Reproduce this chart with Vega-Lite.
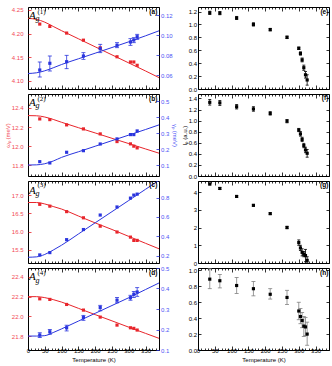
{
"$schema":"https://vega.github.io/schema/vega-lite/v6.json",
"padding":{"left":3,"top":6,"right":0,"bottom":0},
"columns":2,
"bounds":"flush",
"spacing":{"row":5,"column":39},
"datasets":{
"ca":[{"T":0,"w":4.232,"g":0.0615},{"T":25,"w":4.230,"g":0.0622},{"T":50,"w":4.224,"g":0.0642},{"T":75,"w":4.215,"g":0.0672},{"T":100,"w":4.206,"g":0.0705},{"T":150,"w":4.189,"g":0.0762},{"T":200,"w":4.172,"g":0.0818},{"T":250,"w":4.155,"g":0.0875},{"T":300,"w":4.138,"g":0.0932},{"T":350,"w":4.121,"g":0.0992},{"T":390,"w":4.107,"g":0.1042}],
"pa":[{"T":35,"w":4.220,"g":0.065,"lo":0.058,"hi":0.073},{"T":65,"w":4.215,"g":0.0717,"lo":0.064,"hi":0.079},{"T":115,"w":4.201,"g":0.0733,"lo":0.0663,"hi":0.0797},{"T":165,"w":4.186,"g":0.079,"lo":0.0757,"hi":0.0823},{"T":215,"w":4.170,"g":0.0863,"lo":0.0823,"hi":0.0907},{"T":265,"w":4.151,"g":0.0897,"lo":0.0873,"hi":0.0923},{"T":305,"w":4.140,"g":0.093,"lo":0.0897,"hi":0.0963},{"T":315,"w":4.140,"g":0.095,"lo":0.0923,"hi":0.0973},{"T":325,"w":4.133,"g":0.0983,"lo":0.0957,"hi":0.1007}],
"cb":[{"T":0,"w":12.32,"g":0.100},{"T":25,"w":12.318,"g":0.101},{"T":50,"w":12.305,"g":0.108},{"T":75,"w":12.28,"g":0.125},{"T":100,"w":12.25,"g":0.148},{"T":150,"w":12.194,"g":0.183},{"T":200,"w":12.139,"g":0.218},{"T":250,"w":12.083,"g":0.253},{"T":300,"w":12.028,"g":0.288},{"T":350,"w":11.972,"g":0.323},{"T":390,"w":11.928,"g":0.352}],
"pb":[{"T":35,"w":12.285,"g":0.121},{"T":65,"w":12.278,"g":0.113},{"T":115,"w":12.223,"g":0.180},{"T":165,"w":12.181,"g":0.190},{"T":215,"w":12.129,"g":0.232},{"T":265,"w":12.049,"g":0.264},{"T":305,"w":12.025,"g":0.291},{"T":315,"w":12.001,"g":0.291},{"T":325,"w":11.983,"g":0.314}],
"cc":[{"T":0,"w":16.80,"g":0.186},{"T":25,"w":16.80,"g":0.19},{"T":50,"w":16.76,"g":0.215},{"T":75,"w":16.69,"g":0.26},{"T":100,"w":16.62,"g":0.31},{"T":150,"w":16.43,"g":0.425},{"T":200,"w":16.24,"g":0.54},{"T":250,"w":16.06,"g":0.655},{"T":300,"w":15.87,"g":0.77},{"T":350,"w":15.68,"g":0.885},{"T":390,"w":15.53,"g":0.977}],
"pc":[{"T":35,"w":16.75,"g":0.21},{"T":65,"w":16.70,"g":0.234},{"T":115,"w":16.55,"g":0.367},{"T":165,"w":16.38,"g":0.471},{"T":215,"w":16.15,"g":0.62},{"T":265,"w":15.99,"g":0.703},{"T":305,"w":15.85,"g":0.794},{"T":315,"w":15.76,"g":0.825},{"T":325,"w":15.76,"g":0.835}],
"cd":[{"T":0,"w":22.2,"g":0.168},{"T":25,"w":22.2,"g":0.168},{"T":50,"w":22.19,"g":0.17},{"T":75,"w":22.17,"g":0.185},{"T":100,"w":22.145,"g":0.203},{"T":150,"w":22.082,"g":0.241},{"T":200,"w":22.018,"g":0.279},{"T":250,"w":21.955,"g":0.317},{"T":300,"w":21.891,"g":0.355},{"T":350,"w":21.828,"g":0.395},{"T":390,"w":21.778,"g":0.427}],
"pd":[{"T":35,"w":22.178,"g":0.173,"lo":0.161,"hi":0.184},{"T":65,"w":22.172,"g":0.189,"lo":0.177,"hi":0.200},{"T":115,"w":22.121,"g":0.208,"lo":0.193,"hi":0.221},{"T":165,"w":22.064,"g":0.258,"lo":0.245,"hi":0.269},{"T":215,"w":21.993,"g":0.307,"lo":0.291,"hi":0.318},{"T":265,"w":21.912,"g":0.343,"lo":0.330,"hi":0.356},{"T":305,"w":21.885,"g":0.355,"lo":0.343,"hi":0.367},{"T":315,"w":21.879,"g":0.372,"lo":0.356,"hi":0.386},{"T":325,"w":21.862,"g":0.383,"lo":0.362,"hi":0.404}],
"pe":[{"T":35,"v":1.18,"lo":1.155,"hi":1.205},{"T":65,"v":1.175,"lo":1.15,"hi":1.2},{"T":115,"v":1.10,"lo":1.075,"hi":1.125},{"T":165,"v":1.00,"lo":0.975,"hi":1.025},{"T":215,"v":0.92,"lo":0.90,"hi":0.94},{"T":265,"v":0.80,"lo":0.78,"hi":0.82},{"T":300,"v":0.63,"lo":0.61,"hi":0.65},{"T":305,"v":0.55,"lo":0.525,"hi":0.575},{"T":310,"v":0.45,"lo":0.42,"hi":0.48},{"T":315,"v":0.33,"lo":0.29,"hi":0.37},{"T":320,"v":0.22,"lo":0.17,"hi":0.27},{"T":325,"v":0.14,"lo":0.06,"hi":0.22}],
"pf":[{"T":35,"v":1.33,"lo":1.28,"hi":1.38},{"T":65,"v":1.32,"lo":1.275,"hi":1.365},{"T":115,"v":1.25,"lo":1.21,"hi":1.29},{"T":165,"v":1.21,"lo":1.17,"hi":1.25},{"T":215,"v":1.13,"lo":1.10,"hi":1.16},{"T":265,"v":0.99,"lo":0.96,"hi":1.02},{"T":300,"v":0.83,"lo":0.80,"hi":0.86},{"T":305,"v":0.76,"lo":0.72,"hi":0.80},{"T":310,"v":0.66,"lo":0.62,"hi":0.70},{"T":315,"v":0.55,"lo":0.51,"hi":0.59},{"T":320,"v":0.47,"lo":0.42,"hi":0.52},{"T":325,"v":0.41,"lo":0.34,"hi":0.48}],
"pg":[{"T":35,"v":4.45,"lo":4.40,"hi":4.50},{"T":65,"v":4.2,"lo":4.15,"hi":4.25},{"T":115,"v":3.75,"lo":3.70,"hi":3.80},{"T":165,"v":3.25,"lo":3.20,"hi":3.30},{"T":215,"v":2.78,"lo":2.73,"hi":2.83},{"T":265,"v":2.0,"lo":1.93,"hi":2.07},{"T":300,"v":1.15,"lo":1.00,"hi":1.30},{"T":305,"v":0.85,"lo":0.70,"hi":1.00},{"T":310,"v":0.6,"lo":0.40,"hi":0.80},{"T":315,"v":0.5,"lo":0.35,"hi":0.65},{"T":320,"v":0.42,"lo":0.07,"hi":0.77},{"T":325,"v":0.15,"lo":0.0,"hi":0.35}],
"ph":[{"T":35,"v":0.89,"lo":0.77,"hi":1.02},{"T":65,"v":0.87,"lo":0.78,"hi":0.95},{"T":115,"v":0.81,"lo":0.71,"hi":0.91},{"T":165,"v":0.77,"lo":0.68,"hi":0.86},{"T":215,"v":0.70,"lo":0.64,"hi":0.77},{"T":265,"v":0.66,"lo":0.57,"hi":0.75},{"T":300,"v":0.49,"lo":0.38,"hi":0.60},{"T":305,"v":0.42,"lo":0.33,"hi":0.52},{"T":310,"v":0.37,"lo":0.28,"hi":0.47},{"T":315,"v":0.30,"lo":0.17,"hi":0.42},{"T":320,"v":0.29,"lo":0.18,"hi":0.41},{"T":325,"v":0.20,"lo":0.06,"hi":0.35}]
},
"concat":[
  {"width":131,"height":82,
   "layer":[
    {"data":{"name":"ca"},"mark":{"type":"line","color":"#e8252b","strokeWidth":1,"interpolate":"monotone","clip":true},
     "encoding":{"x":{"field":"T","type":"quantitative","scale":{"domain":[0,390]},"axis":{"orient":"bottom","values":[0,10,20,30,40,50,60,70,80,90,100,110,120,130,140,150,160,170,180,190,200,210,220,230,240,250,260,270,280,290,300,310,320,330,340,350,360,370,380,390],"labels":false,"title":null,"tickColor":"black","tickSize":{"condition":{"test":"datum.value % 50 === 0","value":-4},"value":-2}}},
      "y":{"field":"w","type":"quantitative","scale":{"domain":[4.083,4.256]},"axis":{"orient":"left","values":[4.10,4.15,4.20,4.25],"format":".2f","labelColor":"#f24a55","tickColor":"#e8252b","tickSize":-3,"labelPadding":8,"title":null}}}},
    {"data":{"name":"pa"},"mark":{"type":"square","size":10,"color":"#e8252b","opacity":1},
     "encoding":{"x":{"field":"T","type":"quantitative","scale":{"domain":[0,390]},"axis":null},"y":{"field":"w","type":"quantitative","scale":{"domain":[4.083,4.256]},"axis":null}}},
    {"data":{"name":"ca"},"mark":{"type":"line","color":"#2a35de","strokeWidth":1,"interpolate":"monotone","clip":true},
     "encoding":{"x":{"field":"T","type":"quantitative","scale":{"domain":[0,390]},"axis":{"orient":"top","values":[0,10,20,30,40,50,60,70,80,90,100,110,120,130,140,150,160,170,180,190,200,210,220,230,240,250,260,270,280,290,300,310,320,330,340,350,360,370,380,390],"labels":false,"title":null,"tickColor":"black","tickSize":{"condition":{"test":"datum.value % 50 === 0","value":-4},"value":-2}}},
      "y":{"field":"g","type":"quantitative","scale":{"domain":[0.046,0.128]},"axis":{"orient":"right","values":[0.06,0.08,0.10,0.12],"format":".2f","labelColor":"#4f55f5","tickColor":"#2a35de","tickSize":-3,"labelPadding":4.5,"title":null}}}},
    {"data":{"name":"pa"},"mark":{"type":"rule","color":"#2a35de","strokeWidth":0.8},
     "encoding":{"x":{"field":"T","type":"quantitative","scale":{"domain":[0,390]},"axis":null},"y":{"field":"lo","type":"quantitative","scale":{"domain":[0.046,0.128]},"axis":null},"y2":{"field":"hi"}}},
    {"data":{"name":"pa"},"mark":{"type":"tick","orient":"horizontal","size":4,"thickness":0.8,"color":"#2a35de","opacity":1},
     "encoding":{"x":{"field":"T","type":"quantitative","scale":{"domain":[0,390]},"axis":null},"y":{"field":"lo","type":"quantitative","scale":{"domain":[0.046,0.128]},"axis":null}}},
    {"data":{"name":"pa"},"mark":{"type":"tick","orient":"horizontal","size":4,"thickness":0.8,"color":"#2a35de","opacity":1},
     "encoding":{"x":{"field":"T","type":"quantitative","scale":{"domain":[0,390]},"axis":null},"y":{"field":"hi","type":"quantitative","scale":{"domain":[0.046,0.128]},"axis":null}}},
    {"data":{"name":"pa"},"mark":{"type":"square","size":10,"color":"#2a35de","opacity":1},
     "encoding":{"x":{"field":"T","type":"quantitative","scale":{"domain":[0,390]},"axis":null},"y":{"field":"g","type":"quantitative","scale":{"domain":[0.046,0.128]},"axis":null}}},
    {"data":{"values":[{"T":3,"w":4.231,"t":"A"}]},"mark":{"type":"text","font":"Liberation Serif","fontStyle":"italic","fontSize":11,"align":"left","baseline":"alphabetic","color":"black"},
     "encoding":{"x":{"field":"T","type":"quantitative","scale":{"domain":[0,390]},"axis":null},"y":{"field":"w","type":"quantitative","scale":{"domain":[4.083,4.256]},"axis":null},"text":{"field":"t"}}},
    {"data":{"values":[{"T":22,"w":4.2265,"t":"g"}]},"mark":{"type":"text","font":"Liberation Serif","fontStyle":"italic","fontSize":8,"align":"left","baseline":"alphabetic","color":"black"},
     "encoding":{"x":{"field":"T","type":"quantitative","scale":{"domain":[0,390]},"axis":null},"y":{"field":"w","type":"quantitative","scale":{"domain":[4.083,4.256]},"axis":null},"text":{"field":"t"}}},
    {"data":{"values":[{"T":28,"w":4.242,"t":"(1)"}]},"mark":{"type":"text","font":"Liberation Serif","fontSize":7,"align":"left","baseline":"alphabetic","color":"black"},
     "encoding":{"x":{"field":"T","type":"quantitative","scale":{"domain":[0,390]},"axis":null},"y":{"field":"w","type":"quantitative","scale":{"domain":[4.083,4.256]},"axis":null},"text":{"field":"t"}}},
    {"data":{"values":[{"T":385,"w":4.242,"t":"(a)"}]},"mark":{"type":"text","font":"Liberation Sans","fontWeight":"bold","fontSize":6.5,"align":"right","baseline":"alphabetic","color":"black"},
     "encoding":{"x":{"field":"T","type":"quantitative","scale":{"domain":[0,390]},"axis":null},"y":{"field":"w","type":"quantitative","scale":{"domain":[4.083,4.256]},"axis":null},"text":{"field":"t"}}}
   ],
   "resolve":{"scale":{"y":"independent"},"axis":{"x":"independent","y":"independent"}}},
  {"width":131,"height":82,"data":{"name":"pe"},
   "layer":[
    {"mark":{"type":"rule","color":"black","strokeWidth":0.8},
     "encoding":{"x":{"field":"T","type":"quantitative","scale":{"domain":[0,390]},"axis":{"orient":"bottom","values":[0,10,20,30,40,50,60,70,80,90,100,110,120,130,140,150,160,170,180,190,200,210,220,230,240,250,260,270,280,290,300,310,320,330,340,350,360,370,380,390],"labels":false,"title":null,"tickColor":"black","tickSize":{"condition":{"test":"datum.value % 50 === 0","value":-4},"value":-2}}},
      "y":{"field":"lo","type":"quantitative","scale":{"domain":[0,1.27]},"axis":{"orient":"left","values":[0,0.2,0.4,0.6,0.8,1.0,1.2],"format":".1f","labelColor":"black","tickColor":"black","tickSize":-3,"labelPadding":4.5,"title":null}},"y2":{"field":"hi"}}},
    {"mark":{"type":"tick","orient":"horizontal","size":3,"thickness":0.8,"color":"black","opacity":1},
     "encoding":{"x":{"field":"T","type":"quantitative","scale":{"domain":[0,390]},"axis":null},"y":{"field":"lo","type":"quantitative","scale":{"domain":[0,1.27]},"axis":null}}},
    {"mark":{"type":"tick","orient":"horizontal","size":3,"thickness":0.8,"color":"black","opacity":1},
     "encoding":{"x":{"field":"T","type":"quantitative","scale":{"domain":[0,390]},"axis":null},"y":{"field":"hi","type":"quantitative","scale":{"domain":[0,1.27]},"axis":null}}},
    {"mark":{"type":"square","size":10,"color":"black","opacity":1},
     "encoding":{"x":{"field":"T","type":"quantitative","scale":{"domain":[0,390]},"axis":{"orient":"top","values":[0,10,20,30,40,50,60,70,80,90,100,110,120,130,140,150,160,170,180,190,200,210,220,230,240,250,260,270,280,290,300,310,320,330,340,350,360,370,380,390],"labels":false,"title":null,"tickColor":"black","tickSize":{"condition":{"test":"datum.value % 50 === 0","value":-4},"value":-2}}},
      "y":{"field":"v","type":"quantitative","scale":{"domain":[0,1.27]},"axis":{"orient":"right","values":[0,0.2,0.4,0.6,0.8,1.0,1.2],"labels":false,"tickColor":"black","tickSize":-3,"title":null}}}},
    {"data":{"values":[{"T":388,"v":1.166,"t":"(e)"}]},"mark":{"type":"text","font":"Liberation Sans","fontWeight":"bold","fontSize":6.5,"align":"right","baseline":"alphabetic","color":"black"},
     "encoding":{"x":{"field":"T","type":"quantitative","scale":{"domain":[0,390]},"axis":null},"y":{"field":"v","type":"quantitative","scale":{"domain":[0,1.27]},"axis":null},"text":{"field":"t"}}}
   ],
   "resolve":{"axis":{"x":"independent","y":"independent"}}},
  {"width":131,"height":82,
   "layer":[
    {"data":{"name":"cb"},"mark":{"type":"line","color":"#e8252b","strokeWidth":1,"interpolate":"monotone","clip":true},
     "encoding":{"x":{"field":"T","type":"quantitative","scale":{"domain":[0,390]},"axis":{"orient":"bottom","values":[0,10,20,30,40,50,60,70,80,90,100,110,120,130,140,150,160,170,180,190,200,210,220,230,240,250,260,270,280,290,300,310,320,330,340,350,360,370,380,390],"labels":false,"title":null,"tickColor":"black","tickSize":{"condition":{"test":"datum.value % 50 === 0","value":-4},"value":-2}}},
      "y":{"field":"w","type":"quantitative","scale":{"domain":[11.69,12.545]},"axis":{"orient":"left","values":[11.8,12.0,12.2,12.4],"format":".1f","labelColor":"#f24a55","tickColor":"#e8252b","tickSize":-3,"labelPadding":8,"title":"ωₚ (meV)","titleColor":"#f24a55","titlePadding":1}}}},
    {"data":{"name":"pb"},"mark":{"type":"square","size":10,"color":"#e8252b","opacity":1},
     "encoding":{"x":{"field":"T","type":"quantitative","scale":{"domain":[0,390]},"axis":null},"y":{"field":"w","type":"quantitative","scale":{"domain":[11.69,12.545]},"axis":null}}},
    {"data":{"name":"cb"},"mark":{"type":"line","color":"#2a35de","strokeWidth":1,"interpolate":"monotone","clip":true},
     "encoding":{"x":{"field":"T","type":"quantitative","scale":{"domain":[0,390]},"axis":{"orient":"top","values":[0,10,20,30,40,50,60,70,80,90,100,110,120,130,140,150,160,170,180,190,200,210,220,230,240,250,260,270,280,290,300,310,320,330,340,350,360,370,380,390],"labels":false,"title":null,"tickColor":"black","tickSize":{"condition":{"test":"datum.value % 50 === 0","value":-4},"value":-2}}},
      "y":{"field":"g","type":"quantitative","scale":{"domain":[0.031,0.546]},"axis":{"orient":"right","values":[0.1,0.2,0.3,0.4,0.5],"format":".1f","labelColor":"#4f55f5","tickColor":"#2a35de","tickSize":-3,"labelPadding":4.5,"title":"γₚ (meV)","titleColor":"#4f55f5","titlePadding":3}}}},
    {"data":{"name":"pb"},"mark":{"type":"square","size":10,"color":"#2a35de","opacity":1},
     "encoding":{"x":{"field":"T","type":"quantitative","scale":{"domain":[0,390]},"axis":null},"y":{"field":"g","type":"quantitative","scale":{"domain":[0.031,0.546]},"axis":null}}},
    {"data":{"values":[{"T":3,"w":12.415,"t":"A"}]},"mark":{"type":"text","font":"Liberation Serif","fontStyle":"italic","fontSize":11,"align":"left","baseline":"alphabetic","color":"black"},
     "encoding":{"x":{"field":"T","type":"quantitative","scale":{"domain":[0,390]},"axis":null},"y":{"field":"w","type":"quantitative","scale":{"domain":[11.69,12.545]},"axis":null},"text":{"field":"t"}}},
    {"data":{"values":[{"T":22,"w":12.394,"t":"g"}]},"mark":{"type":"text","font":"Liberation Serif","fontStyle":"italic","fontSize":8,"align":"left","baseline":"alphabetic","color":"black"},
     "encoding":{"x":{"field":"T","type":"quantitative","scale":{"domain":[0,390]},"axis":null},"y":{"field":"w","type":"quantitative","scale":{"domain":[11.69,12.545]},"axis":null},"text":{"field":"t"}}},
    {"data":{"values":[{"T":28,"w":12.477,"t":"(2)"}]},"mark":{"type":"text","font":"Liberation Serif","fontSize":7,"align":"left","baseline":"alphabetic","color":"black"},
     "encoding":{"x":{"field":"T","type":"quantitative","scale":{"domain":[0,390]},"axis":null},"y":{"field":"w","type":"quantitative","scale":{"domain":[11.69,12.545]},"axis":null},"text":{"field":"t"}}},
    {"data":{"values":[{"T":385,"w":12.477,"t":"(b)"}]},"mark":{"type":"text","font":"Liberation Sans","fontWeight":"bold","fontSize":6.5,"align":"right","baseline":"alphabetic","color":"black"},
     "encoding":{"x":{"field":"T","type":"quantitative","scale":{"domain":[0,390]},"axis":null},"y":{"field":"w","type":"quantitative","scale":{"domain":[11.69,12.545]},"axis":null},"text":{"field":"t"}}}
   ],
   "resolve":{"scale":{"y":"independent"},"axis":{"x":"independent","y":"independent"}}},
  {"width":131,"height":82,"data":{"name":"pf"},
   "layer":[
    {"mark":{"type":"rule","color":"black","strokeWidth":0.8},
     "encoding":{"x":{"field":"T","type":"quantitative","scale":{"domain":[0,390]},"axis":{"orient":"bottom","values":[0,10,20,30,40,50,60,70,80,90,100,110,120,130,140,150,160,170,180,190,200,210,220,230,240,250,260,270,280,290,300,310,320,330,340,350,360,370,380,390],"labels":false,"title":null,"tickColor":"black","tickSize":{"condition":{"test":"datum.value % 50 === 0","value":-4},"value":-2}}},
      "y":{"field":"lo","type":"quantitative","scale":{"domain":[0,1.48]},"axis":{"orient":"left","values":[0,0.2,0.4,0.6,0.8,1.0,1.2,1.4],"format":".1f","labelColor":"black","tickColor":"black","tickSize":-3,"labelPadding":4.5,"title":"Iₚ (a.u.)","titleColor":"black","titlePadding":1}},"y2":{"field":"hi"}}},
    {"mark":{"type":"tick","orient":"horizontal","size":3,"thickness":0.8,"color":"black","opacity":1},
     "encoding":{"x":{"field":"T","type":"quantitative","scale":{"domain":[0,390]},"axis":null},"y":{"field":"lo","type":"quantitative","scale":{"domain":[0,1.48]},"axis":null}}},
    {"mark":{"type":"tick","orient":"horizontal","size":3,"thickness":0.8,"color":"black","opacity":1},
     "encoding":{"x":{"field":"T","type":"quantitative","scale":{"domain":[0,390]},"axis":null},"y":{"field":"hi","type":"quantitative","scale":{"domain":[0,1.48]},"axis":null}}},
    {"mark":{"type":"square","size":10,"color":"black","opacity":1},
     "encoding":{"x":{"field":"T","type":"quantitative","scale":{"domain":[0,390]},"axis":{"orient":"top","values":[0,10,20,30,40,50,60,70,80,90,100,110,120,130,140,150,160,170,180,190,200,210,220,230,240,250,260,270,280,290,300,310,320,330,340,350,360,370,380,390],"labels":false,"title":null,"tickColor":"black","tickSize":{"condition":{"test":"datum.value % 50 === 0","value":-4},"value":-2}}},
      "y":{"field":"v","type":"quantitative","scale":{"domain":[0,1.48]},"axis":{"orient":"right","values":[0,0.2,0.4,0.6,0.8,1.0,1.2,1.4],"labels":false,"tickColor":"black","tickSize":-3,"title":null}}}},
    {"data":{"values":[{"T":388,"v":1.363,"t":"(f)"}]},"mark":{"type":"text","font":"Liberation Sans","fontWeight":"bold","fontSize":6.5,"align":"right","baseline":"alphabetic","color":"black"},
     "encoding":{"x":{"field":"T","type":"quantitative","scale":{"domain":[0,390]},"axis":null},"y":{"field":"v","type":"quantitative","scale":{"domain":[0,1.48]},"axis":null},"text":{"field":"t"}}}
   ],
   "resolve":{"axis":{"x":"independent","y":"independent"}}},
  {"width":131,"height":82,
   "layer":[
    {"data":{"name":"cc"},"mark":{"type":"line","color":"#e8252b","strokeWidth":1,"interpolate":"monotone","clip":true},
     "encoding":{"x":{"field":"T","type":"quantitative","scale":{"domain":[0,390]},"axis":{"orient":"bottom","values":[0,10,20,30,40,50,60,70,80,90,100,110,120,130,140,150,160,170,180,190,200,210,220,230,240,250,260,270,280,290,300,310,320,330,340,350,360,370,380,390],"labels":false,"title":null,"tickColor":"black","tickSize":{"condition":{"test":"datum.value % 50 === 0","value":-4},"value":-2}}},
      "y":{"field":"w","type":"quantitative","scale":{"domain":[15.14,17.39]},"axis":{"orient":"left","values":[15.5,16.0,16.5,17.0],"format":".1f","labelColor":"#f24a55","tickColor":"#e8252b","tickSize":-3,"labelPadding":8,"title":null}}}},
    {"data":{"name":"pc"},"mark":{"type":"square","size":10,"color":"#e8252b","opacity":1},
     "encoding":{"x":{"field":"T","type":"quantitative","scale":{"domain":[0,390]},"axis":null},"y":{"field":"w","type":"quantitative","scale":{"domain":[15.14,17.39]},"axis":null}}},
    {"data":{"name":"cc"},"mark":{"type":"line","color":"#2a35de","strokeWidth":1,"interpolate":"monotone","clip":true},
     "encoding":{"x":{"field":"T","type":"quantitative","scale":{"domain":[0,390]},"axis":{"orient":"top","values":[0,10,20,30,40,50,60,70,80,90,100,110,120,130,140,150,160,170,180,190,200,210,220,230,240,250,260,270,280,290,300,310,320,330,340,350,360,370,380,390],"labels":false,"title":null,"tickColor":"black","tickSize":{"condition":{"test":"datum.value % 50 === 0","value":-4},"value":-2}}},
      "y":{"field":"g","type":"quantitative","scale":{"domain":[0.127,0.97]},"axis":{"orient":"right","values":[0.2,0.4,0.6,0.8],"format":".1f","labelColor":"#4f55f5","tickColor":"#2a35de","tickSize":-3,"labelPadding":4.5,"title":null}}}},
    {"data":{"name":"pc"},"mark":{"type":"square","size":10,"color":"#2a35de","opacity":1},
     "encoding":{"x":{"field":"T","type":"quantitative","scale":{"domain":[0,390]},"axis":null},"y":{"field":"g","type":"quantitative","scale":{"domain":[0.127,0.97]},"axis":null}}},
    {"data":{"values":[{"T":3,"w":17.047,"t":"A"}]},"mark":{"type":"text","font":"Liberation Serif","fontStyle":"italic","fontSize":11,"align":"left","baseline":"alphabetic","color":"black"},
     "encoding":{"x":{"field":"T","type":"quantitative","scale":{"domain":[0,390]},"axis":null},"y":{"field":"w","type":"quantitative","scale":{"domain":[15.14,17.39]},"axis":null},"text":{"field":"t"}}},
    {"data":{"values":[{"T":22,"w":16.992,"t":"g"}]},"mark":{"type":"text","font":"Liberation Serif","fontStyle":"italic","fontSize":8,"align":"left","baseline":"alphabetic","color":"black"},
     "encoding":{"x":{"field":"T","type":"quantitative","scale":{"domain":[0,390]},"axis":null},"y":{"field":"w","type":"quantitative","scale":{"domain":[15.14,17.39]},"axis":null},"text":{"field":"t"}}},
    {"data":{"values":[{"T":28,"w":17.212,"t":"(3)"}]},"mark":{"type":"text","font":"Liberation Serif","fontSize":7,"align":"left","baseline":"alphabetic","color":"black"},
     "encoding":{"x":{"field":"T","type":"quantitative","scale":{"domain":[0,390]},"axis":null},"y":{"field":"w","type":"quantitative","scale":{"domain":[15.14,17.39]},"axis":null},"text":{"field":"t"}}},
    {"data":{"values":[{"T":385,"w":17.212,"t":"(c)"}]},"mark":{"type":"text","font":"Liberation Sans","fontWeight":"bold","fontSize":6.5,"align":"right","baseline":"alphabetic","color":"black"},
     "encoding":{"x":{"field":"T","type":"quantitative","scale":{"domain":[0,390]},"axis":null},"y":{"field":"w","type":"quantitative","scale":{"domain":[15.14,17.39]},"axis":null},"text":{"field":"t"}}}
   ],
   "resolve":{"scale":{"y":"independent"},"axis":{"x":"independent","y":"independent"}}},
  {"width":131,"height":82,"data":{"name":"pg"},
   "layer":[
    {"mark":{"type":"rule","color":"black","strokeWidth":0.8},
     "encoding":{"x":{"field":"T","type":"quantitative","scale":{"domain":[0,390]},"axis":{"orient":"bottom","values":[0,10,20,30,40,50,60,70,80,90,100,110,120,130,140,150,160,170,180,190,200,210,220,230,240,250,260,270,280,290,300,310,320,330,340,350,360,370,380,390],"labels":false,"title":null,"tickColor":"black","tickSize":{"condition":{"test":"datum.value % 50 === 0","value":-4},"value":-2}}},
      "y":{"field":"lo","type":"quantitative","scale":{"domain":[0,4.62]},"axis":{"orient":"left","values":[0,1,2,3,4],"format":"d","labelColor":"black","tickColor":"black","tickSize":-3,"labelPadding":4.5,"title":null}},"y2":{"field":"hi"}}},
    {"mark":{"type":"tick","orient":"horizontal","size":3,"thickness":0.8,"color":"black","opacity":1},
     "encoding":{"x":{"field":"T","type":"quantitative","scale":{"domain":[0,390]},"axis":null},"y":{"field":"lo","type":"quantitative","scale":{"domain":[0,4.62]},"axis":null}}},
    {"mark":{"type":"tick","orient":"horizontal","size":3,"thickness":0.8,"color":"black","opacity":1},
     "encoding":{"x":{"field":"T","type":"quantitative","scale":{"domain":[0,390]},"axis":null},"y":{"field":"hi","type":"quantitative","scale":{"domain":[0,4.62]},"axis":null}}},
    {"mark":{"type":"square","size":10,"color":"black","opacity":1},
     "encoding":{"x":{"field":"T","type":"quantitative","scale":{"domain":[0,390]},"axis":{"orient":"top","values":[0,10,20,30,40,50,60,70,80,90,100,110,120,130,140,150,160,170,180,190,200,210,220,230,240,250,260,270,280,290,300,310,320,330,340,350,360,370,380,390],"labels":false,"title":null,"tickColor":"black","tickSize":{"condition":{"test":"datum.value % 50 === 0","value":-4},"value":-2}}},
      "y":{"field":"v","type":"quantitative","scale":{"domain":[0,4.62]},"axis":{"orient":"right","values":[0,1,2,3,4],"labels":false,"tickColor":"black","tickSize":-3,"title":null}}}},
    {"data":{"values":[{"T":388,"v":4.254,"t":"(g)"}]},"mark":{"type":"text","font":"Liberation Sans","fontWeight":"bold","fontSize":6.5,"align":"right","baseline":"alphabetic","color":"black"},
     "encoding":{"x":{"field":"T","type":"quantitative","scale":{"domain":[0,390]},"axis":null},"y":{"field":"v","type":"quantitative","scale":{"domain":[0,4.62]},"axis":null},"text":{"field":"t"}}}
   ],
   "resolve":{"axis":{"x":"independent","y":"independent"}}},
  {"width":131,"height":82,
   "layer":[
    {"data":{"name":"cd"},"mark":{"type":"line","color":"#e8252b","strokeWidth":1,"interpolate":"monotone","clip":true},
     "encoding":{"x":{"field":"T","type":"quantitative","scale":{"domain":[0,390]},"axis":{"orient":"bottom","values":[0,10,20,30,40,50,60,70,80,90,100,110,120,130,140,150,160,170,180,190,200,210,220,230,240,250,260,270,280,290,300,310,320,330,340,350,360,370,380,390],"labelExpr":"datum.value % 50 === 0 ? datum.label : ''","labelOverlap":false,"labelFlush":false,"labelPadding":1,"labelColor":"black","title":"Temperature (K)","titlePadding":1,"tickColor":"black","tickSize":{"condition":{"test":"datum.value % 50 === 0","value":-4},"value":-2}}},
      "y":{"field":"w","type":"quantitative","scale":{"domain":[21.66,22.49]},"axis":{"orient":"left","values":[21.8,22.0,22.2,22.4],"format":".1f","labelColor":"#f24a55","tickColor":"#e8252b","tickSize":-3,"labelPadding":8,"title":null}}}},
    {"data":{"name":"pd"},"mark":{"type":"square","size":10,"color":"#e8252b","opacity":1},
     "encoding":{"x":{"field":"T","type":"quantitative","scale":{"domain":[0,390]},"axis":null},"y":{"field":"w","type":"quantitative","scale":{"domain":[21.66,22.49]},"axis":null}}},
    {"data":{"name":"cd"},"mark":{"type":"line","color":"#2a35de","strokeWidth":1,"interpolate":"monotone","clip":true},
     "encoding":{"x":{"field":"T","type":"quantitative","scale":{"domain":[0,390]},"axis":{"orient":"top","values":[0,10,20,30,40,50,60,70,80,90,100,110,120,130,140,150,160,170,180,190,200,210,220,230,240,250,260,270,280,290,300,310,320,330,340,350,360,370,380,390],"labels":false,"title":null,"tickColor":"black","tickSize":{"condition":{"test":"datum.value % 50 === 0","value":-4},"value":-2}}},
      "y":{"field":"g","type":"quantitative","scale":{"domain":[0.1,0.5]},"axis":{"orient":"right","values":[0.1,0.2,0.3,0.4,0.5],"format":".1f","labelColor":"#4f55f5","tickColor":"#2a35de","tickSize":-3,"labelPadding":4.5,"title":null}}}},
    {"data":{"name":"pd"},"mark":{"type":"rule","color":"#2a35de","strokeWidth":0.8},
     "encoding":{"x":{"field":"T","type":"quantitative","scale":{"domain":[0,390]},"axis":null},"y":{"field":"lo","type":"quantitative","scale":{"domain":[0.1,0.5]},"axis":null},"y2":{"field":"hi"}}},
    {"data":{"name":"pd"},"mark":{"type":"tick","orient":"horizontal","size":4,"thickness":0.8,"color":"#2a35de","opacity":1},
     "encoding":{"x":{"field":"T","type":"quantitative","scale":{"domain":[0,390]},"axis":null},"y":{"field":"lo","type":"quantitative","scale":{"domain":[0.1,0.5]},"axis":null}}},
    {"data":{"name":"pd"},"mark":{"type":"tick","orient":"horizontal","size":4,"thickness":0.8,"color":"#2a35de","opacity":1},
     "encoding":{"x":{"field":"T","type":"quantitative","scale":{"domain":[0,390]},"axis":null},"y":{"field":"hi","type":"quantitative","scale":{"domain":[0.1,0.5]},"axis":null}}},
    {"data":{"name":"pd"},"mark":{"type":"square","size":10,"color":"#2a35de","opacity":1},
     "encoding":{"x":{"field":"T","type":"quantitative","scale":{"domain":[0,390]},"axis":null},"y":{"field":"g","type":"quantitative","scale":{"domain":[0.1,0.5]},"axis":null}}},
    {"data":{"values":[{"T":3,"w":22.3635,"t":"A"}]},"mark":{"type":"text","font":"Liberation Serif","fontStyle":"italic","fontSize":11,"align":"left","baseline":"alphabetic","color":"black"},
     "encoding":{"x":{"field":"T","type":"quantitative","scale":{"domain":[0,390]},"axis":null},"y":{"field":"w","type":"quantitative","scale":{"domain":[21.66,22.49]},"axis":null},"text":{"field":"t"}}},
    {"data":{"values":[{"T":22,"w":22.343,"t":"g"}]},"mark":{"type":"text","font":"Liberation Serif","fontStyle":"italic","fontSize":8,"align":"left","baseline":"alphabetic","color":"black"},
     "encoding":{"x":{"field":"T","type":"quantitative","scale":{"domain":[0,390]},"axis":null},"y":{"field":"w","type":"quantitative","scale":{"domain":[21.66,22.49]},"axis":null},"text":{"field":"t"}}},
    {"data":{"values":[{"T":28,"w":22.424,"t":"(4)"}]},"mark":{"type":"text","font":"Liberation Serif","fontSize":7,"align":"left","baseline":"alphabetic","color":"black"},
     "encoding":{"x":{"field":"T","type":"quantitative","scale":{"domain":[0,390]},"axis":null},"y":{"field":"w","type":"quantitative","scale":{"domain":[21.66,22.49]},"axis":null},"text":{"field":"t"}}},
    {"data":{"values":[{"T":385,"w":22.424,"t":"(d)"}]},"mark":{"type":"text","font":"Liberation Sans","fontWeight":"bold","fontSize":6.5,"align":"right","baseline":"alphabetic","color":"black"},
     "encoding":{"x":{"field":"T","type":"quantitative","scale":{"domain":[0,390]},"axis":null},"y":{"field":"w","type":"quantitative","scale":{"domain":[21.66,22.49]},"axis":null},"text":{"field":"t"}}}
   ],
   "resolve":{"scale":{"y":"independent"},"axis":{"x":"independent","y":"independent"}}},
  {"width":131,"height":82,"data":{"name":"ph"},
   "layer":[
    {"mark":{"type":"rule","color":"#808080","strokeWidth":0.8},
     "encoding":{"x":{"field":"T","type":"quantitative","scale":{"domain":[0,390]},"axis":{"orient":"bottom","values":[0,10,20,30,40,50,60,70,80,90,100,110,120,130,140,150,160,170,180,190,200,210,220,230,240,250,260,270,280,290,300,310,320,330,340,350,360,370,380,390],"labelExpr":"datum.value % 50 === 0 ? datum.label : ''","labelOverlap":false,"labelFlush":false,"labelPadding":1,"labelColor":"black","title":"Temperature (K)","titlePadding":1,"tickColor":"black","tickSize":{"condition":{"test":"datum.value % 50 === 0","value":-4},"value":-2}}},
      "y":{"field":"lo","type":"quantitative","scale":{"domain":[0,1.03]},"axis":{"orient":"left","values":[0,0.2,0.4,0.6,0.8,1.0],"format":".1f","labelColor":"black","tickColor":"black","tickSize":-3,"labelPadding":4.5,"title":null}},"y2":{"field":"hi"}}},
    {"mark":{"type":"tick","orient":"horizontal","size":4,"thickness":0.8,"color":"#808080","opacity":1},
     "encoding":{"x":{"field":"T","type":"quantitative","scale":{"domain":[0,390]},"axis":null},"y":{"field":"lo","type":"quantitative","scale":{"domain":[0,1.03]},"axis":null}}},
    {"mark":{"type":"tick","orient":"horizontal","size":4,"thickness":0.8,"color":"#808080","opacity":1},
     "encoding":{"x":{"field":"T","type":"quantitative","scale":{"domain":[0,390]},"axis":null},"y":{"field":"hi","type":"quantitative","scale":{"domain":[0,1.03]},"axis":null}}},
    {"mark":{"type":"square","size":10,"color":"black","opacity":1},
     "encoding":{"x":{"field":"T","type":"quantitative","scale":{"domain":[0,390]},"axis":{"orient":"top","values":[0,10,20,30,40,50,60,70,80,90,100,110,120,130,140,150,160,170,180,190,200,210,220,230,240,250,260,270,280,290,300,310,320,330,340,350,360,370,380,390],"labels":false,"title":null,"tickColor":"black","tickSize":{"condition":{"test":"datum.value % 50 === 0","value":-4},"value":-2}}},
      "y":{"field":"v","type":"quantitative","scale":{"domain":[0,1.03]},"axis":{"orient":"right","values":[0,0.2,0.4,0.6,0.8,1.0],"labels":false,"tickColor":"black","tickSize":-3,"title":null}}}},
    {"data":{"values":[{"T":388,"v":0.948,"t":"(h)"}]},"mark":{"type":"text","font":"Liberation Sans","fontWeight":"bold","fontSize":6.5,"align":"right","baseline":"alphabetic","color":"black"},
     "encoding":{"x":{"field":"T","type":"quantitative","scale":{"domain":[0,390]},"axis":null},"y":{"field":"v","type":"quantitative","scale":{"domain":[0,1.03]},"axis":null},"text":{"field":"t"}}}
   ],
   "resolve":{"axis":{"x":"independent","y":"independent"}}}
],
"config":{
 "view":{"stroke":"black","strokeWidth":1},
 "axis":{"grid":false,"domain":false,"labelFont":"Liberation Sans","labelFontSize":6,"titleFont":"Liberation Sans","titleFontSize":6,"titleFontWeight":"normal","tickWidth":0.8},
 "font":"Liberation Sans"
}
}
